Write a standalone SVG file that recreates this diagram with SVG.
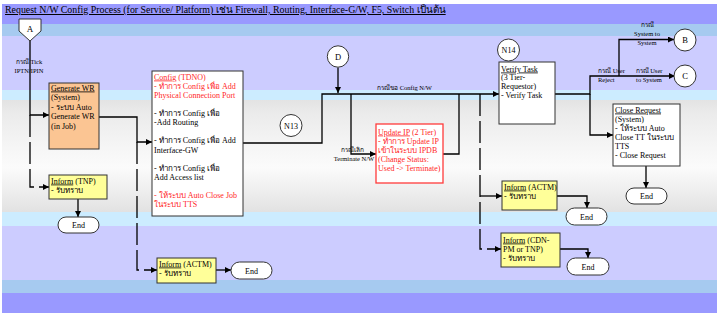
<svg xmlns="http://www.w3.org/2000/svg" width="720" height="315" viewBox="0 0 720 315">
  <defs>
    <linearGradient id="greyBand" x1="0" y1="0" x2="0" y2="1">
      <stop offset="0" stop-color="#e3e3e3"/>
      <stop offset="0.12" stop-color="#ebebeb"/>
      <stop offset="0.4" stop-color="#f5f5f5"/>
      <stop offset="0.6" stop-color="#fbfbfb"/>
      <stop offset="0.75" stop-color="#f2f2f2"/>
      <stop offset="1" stop-color="#e2e2e2"/>
    </linearGradient>
    <marker id="ah" viewBox="0 0 10 10" refX="10" refY="5" markerWidth="7" markerHeight="6" orient="auto" markerUnits="userSpaceOnUse">
      <path d="M0,0 L10,5 L0,10 z" fill="#000"/>
    </marker>
    <style>
      .t { font-family: "Liberation Serif", "DejaVu Serif", serif; font-size: 8px; fill: #000; }
      .r { fill: #ff1f1f; }
      .lb { font-size: 6.5px; }
      .u { text-decoration: underline; }
      .box { stroke: #333; stroke-width: 1; }
      .wr { fill: #fbc593; }
      .inf { fill: #ffff99; }
      .wh { fill: #fff; }
      .end { fill: #fff; stroke: #333; stroke-width: 1; }
      .circ { fill: #fff; stroke: #333; stroke-width: 1; }
      .ln { fill: none; stroke: #000; stroke-width: 1.3; }
      .ds { stroke-dasharray: 22 5; }
    </style>
  </defs>

  <!-- swimlane background bands -->
  <g id="background">
    <rect x="0" y="0" width="720" height="315" fill="#fff"/>
    <rect x="2" y="4" width="715" height="20" fill="#9999ff"/>
    <rect x="2" y="24" width="715" height="12" fill="#a6caf0"/>
    <rect x="2" y="36" width="715" height="54" fill="#ccccff"/>
    <rect x="2" y="90" width="715" height="10" fill="#ccecff"/>
    <rect x="2" y="100" width="715" height="112" fill="url(#greyBand)"/>
    <rect x="2" y="212" width="715" height="14" fill="#ccecff"/>
    <rect x="2" y="226" width="715" height="54" fill="#ccccff"/>
    <rect x="2" y="280" width="715" height="13" fill="#a6caf0"/>
    <rect x="2" y="293" width="715" height="20" fill="#9999ff"/>
  </g>

  <text id="title" class="t u" x="5" y="13" style="font-size:9.9px">Request N/W Config Process (for Service/ Platform) เช่น Firewall, Routing, Interface-G/W, F5, Switch เป็นต้น</text>

  <!-- connectors -->
  <g id="connectors">
    <path class="ln" d="M30,41 V115 H49" marker-end="url(#ah)"/>
    <path class="ln ds" d="M30,115 V187 H49" marker-end="url(#ah)"/>
    <path class="ln" d="M99,117 H137 V142 H152" marker-end="url(#ah)"/>
    <path class="ln ds" d="M137,142 V270 H157" marker-end="url(#ah)"/>
    <path class="ln" d="M78,199 V217" marker-end="url(#ah)"/>
    <path class="ln" d="M216,270 H231" marker-end="url(#ah)"/>
    <path class="ln" d="M243,143 H322 V94 H499" marker-end="url(#ah)"/>
    <path class="ln" d="M338,67.5 V93" marker-end="url(#ah)"/>
    <path class="ln" d="M351,94 V154 H376" marker-end="url(#ah)"/>
    <path class="ln" d="M443,154 H459 V94"/>
    <path class="ln ds" d="M480,94 V249 H501" marker-end="url(#ah)"/>
    <path class="ln" d="M480,196 H502" marker-end="url(#ah)"/>
    <path class="ln" d="M555,94 H590 V76 H675" marker-end="url(#ah)"/>
    <path class="ln" d="M619,76 V39.5 H674" marker-end="url(#ah)"/>
    <path class="ln" d="M590,94 V135 H613" marker-end="url(#ah)"/>
    <path class="ln" d="M646,166 V188" marker-end="url(#ah)"/>
    <path class="ln" d="M557,196 H587 V208" marker-end="url(#ah)"/>
    <path class="ln" d="M560,249 H588 V258" marker-end="url(#ah)"/>
  </g>

  <!-- connector labels -->
  <g id="labels" class="t lb">
    <text x="29" y="64" text-anchor="middle">กรณี Tick</text>
    <text x="29" y="73" text-anchor="middle">IPTN/IPIN</text>
    <text x="377" y="90">กรณีขอ Config N/W</text>
    <text x="352" y="152" text-anchor="middle">กรณีเลิก</text>
    <text x="354" y="161" text-anchor="middle">Terminate N/W</text>
    <text x="647" y="27" text-anchor="middle">กรณี</text>
    <text x="647" y="35.5" text-anchor="middle">System to</text>
    <text x="647" y="45" text-anchor="middle">System</text>
    <text x="598" y="73">กรณี User</text>
    <text x="598" y="82">Reject</text>
    <text x="649" y="73" text-anchor="middle">กรณี User</text>
    <text x="649" y="82" text-anchor="middle">to System</text>
  </g>

  <!-- off-page connector A -->
  <g id="A">
    <path class="circ" d="M19,19 H41 V31 L30,41 L19,31 Z"/>
    <text class="t" x="30" y="31.5" text-anchor="middle" style="font-size:9px">A</text>
  </g>

  <g id="D">
    <circle class="circ" cx="338" cy="56.5" r="10.7"/>
    <text class="t" x="338" y="59.5" text-anchor="middle" style="font-size:8.5px">D</text>
  </g>

  <g id="N13">
    <circle class="circ" cx="291" cy="125.5" r="11"/>
    <text class="t" x="291" y="128.5" text-anchor="middle">N13</text>
  </g>

  <g id="N14">
    <circle class="circ" cx="508.5" cy="50" r="11"/>
    <text class="t" x="508.5" y="53" text-anchor="middle">N14</text>
  </g>

  <g id="B">
    <circle class="circ" cx="685" cy="40" r="11"/>
    <text class="t" x="685" y="43" text-anchor="middle" style="font-size:8.5px">B</text>
  </g>

  <g id="C">
    <circle class="circ" cx="685" cy="76" r="11"/>
    <text class="t" x="685" y="79" text-anchor="middle" style="font-size:8.5px">C</text>
  </g>

  <g id="generate-wr">
    <rect class="box wr" x="49" y="83" width="50" height="66"/>
    <text class="t" x="51"><tspan x="51" y="90.5" class="u">Generate WR</tspan><tspan x="51" y="100">(System)</tspan><tspan x="51" y="109.5">- ระบบ Auto</tspan><tspan x="51" y="119">Generate WR</tspan><tspan x="51" y="128.5">(in Job)</tspan></text>
  </g>

  <g id="config">
    <rect class="box wh" x="152" y="71" width="91" height="145"/>
    <text class="t r" x="154"><tspan x="154" y="79.5"><tspan class="u">Config</tspan> (TDNO)</tspan><tspan x="154" y="88.6">- ทำการ Config เพื่อ Add</tspan><tspan x="154" y="97.7">Physical Connection Port</tspan></text>
    <text class="t" x="154"><tspan x="154" y="116">- ทำการ Config เพื่อ</tspan><tspan x="154" y="125.1">-Add Routing</tspan><tspan x="154" y="143.4">- ทำการ Config เพื่อ Add</tspan><tspan x="154" y="152.5">Interface-GW</tspan><tspan x="154" y="170.8">- ทำการ Config เพื่อ</tspan><tspan x="154" y="179.9">Add Access list</tspan></text>
    <text class="t r" x="154"><tspan x="154" y="198.2">- ให้ระบบ Auto Close Job</tspan><tspan x="154" y="207.3">ในระบบ TTS</tspan></text>
  </g>

  <g id="update-ip">
    <rect x="376" y="124" width="67" height="59" fill="#fff" stroke="#ff3b3b" stroke-width="1.3"/>
    <text class="t r" x="378"><tspan x="378" y="134.5"><tspan class="u">Update IP</tspan> (2 Tier)</tspan><tspan x="378" y="143.5">- ทำการ Update IP</tspan><tspan x="378" y="152.5">เข้าในระบบ IPDB</tspan><tspan x="378" y="161.5">(Change Status:</tspan><tspan x="378" y="170.5">Used -&gt; Terminate)</tspan></text>
  </g>

  <g id="verify-task">
    <rect class="box wh" x="499" y="62" width="56" height="62"/>
    <text class="t" x="501"><tspan x="501" y="71.5" class="u">Verify Task</tspan><tspan x="501" y="80.2">(3 Tier-</tspan><tspan x="501" y="88.9">Requestor)</tspan><tspan x="501" y="97.6">- Verify Task</tspan></text>
  </g>

  <g id="close-request">
    <rect class="box wh" x="613" y="104" width="67" height="62"/>
    <text class="t" x="615"><tspan x="615" y="112.5" class="u">Close Request</tspan><tspan x="615" y="121.6">(System)</tspan><tspan x="615" y="130.7">- ให้ระบบ Auto</tspan><tspan x="615" y="139.8">Close TT ในระบบ</tspan><tspan x="615" y="148.9">TTS</tspan><tspan x="615" y="158">- Close Request</tspan></text>
  </g>

  <g id="inform-tnp">
    <rect class="box inf" x="49" y="175" width="58" height="24"/>
    <text class="t" x="51"><tspan x="51" y="183.5"><tspan class="u">Inform</tspan> (TNP)</tspan><tspan x="51" y="192.5">- รับทราบ</tspan></text>
  </g>

  <g id="inform-actm-1">
    <rect class="box inf" x="157" y="258" width="59" height="25"/>
    <text class="t" x="159"><tspan x="159" y="266.5"><tspan class="u">Inform</tspan> (ACTM)</tspan><tspan x="159" y="275.5">- รับทราบ</tspan></text>
  </g>

  <g id="inform-actm-2">
    <rect class="box inf" x="502" y="181" width="55" height="29"/>
    <text class="t" x="504"><tspan x="504" y="189.5"><tspan class="u">Inform</tspan> (ACTM)</tspan><tspan x="504" y="198.5">- รับทราบ</tspan></text>
  </g>

  <g id="inform-cdn">
    <rect class="box inf" x="501" y="233" width="59" height="34"/>
    <text class="t" x="503"><tspan x="503" y="242.5"><tspan class="u">Inform</tspan> (CDN-</tspan><tspan x="503" y="251.5">PM or TNP)</tspan><tspan x="503" y="260.5">- รับทราบ</tspan></text>
  </g>

  <g id="end-1">
    <rect class="end" x="58" y="217" width="41" height="16" rx="8"/>
    <text class="t" x="78.5" y="228" text-anchor="middle">End</text>
  </g>
  <g id="end-2">
    <rect class="end" x="231" y="262" width="41" height="17" rx="8.5"/>
    <text class="t" x="251.5" y="273.5" text-anchor="middle">End</text>
  </g>
  <g id="end-3">
    <rect class="end" x="626" y="188" width="41" height="16" rx="8"/>
    <text class="t" x="646.5" y="199" text-anchor="middle">End</text>
  </g>
  <g id="end-4">
    <rect class="end" x="566" y="208" width="41" height="17" rx="8.5"/>
    <text class="t" x="586.5" y="219.5" text-anchor="middle">End</text>
  </g>
  <g id="end-5">
    <rect class="end" x="567" y="258" width="42" height="17" rx="8.5"/>
    <text class="t" x="588" y="269.5" text-anchor="middle">End</text>
  </g>
</svg>
